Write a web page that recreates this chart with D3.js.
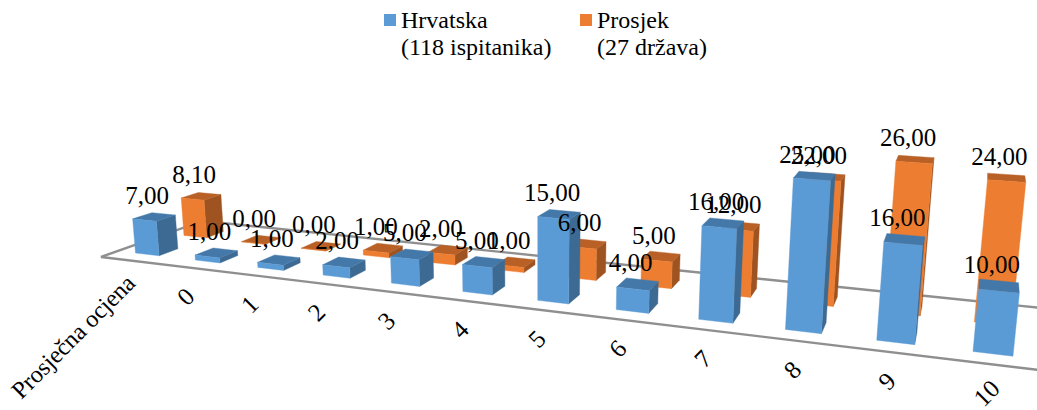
<!DOCTYPE html>
<html><head><meta charset="utf-8">
<style>html,body{margin:0;padding:0;background:#fff}svg{display:block}text{font-family:"Liberation Serif",serif;fill:#000}</style>
<script src="https://cdn.jsdelivr.net/npm/d3@7"></script></head><body>
<script>
const categories = ["Prosječna ocjena","0","1","2","3","4","5","6","7","8","9","10"];
const hrvatska = [7,1,1,2,5,5,15,4,16,25,16,10];
const prosjek = [8.1,0,0,1,2,1,6,5,12,22,26,24];
const seriesNames = ["Hrvatska","Prosjek"];
const seriesValues = [hrvatska,prosjek];
const legendLines = [["Hrvatska","(118 ispitanika)"],["Prosjek","(27 država)"]];
const frontColors = ["#5B9BD5","#ED7D31"], topColors=["#4478A8","#B96026"], sideColors=["#3D6A93","#9E5320"];

const W=1037,H=410;
const svg=d3.select("body").append("svg").attr("width",W).attr("height",H);
svg.append("rect").attr("width",W).attr("height",H).attr("fill","#fff");

// scales into floor-plane units (along the categories, into the depth, up the height)
const uScale=d3.scaleBand().domain(categories).range([-.3,11.7]).paddingInner(.6).paddingOuter(.3);
const vScale=d3.scaleBand().domain(seriesNames).range([-.31,1.69]).paddingInner(.62).paddingOuter(.31);
const hScale=d3.scaleLinear().domain([0,30]).range([0,30]);
// perspective camera
function project(u,v,h){
  const w=1-.0209*u+.06*v-.00101*h;
  return [(135.5+55.8*u+59.5*v-.543*h)/w,(253+1.61*u-3.5*v-5.1*h)/w];
}
const path=d3.line();
const floorU=[-.3,13], floorV=[-.32,1.8];
svg.append("path").attr("fill","none").attr("stroke","#8f8f8f").attr("stroke-width",2.4).attr("stroke-linejoin","miter")
  .attr("d",path([[floorU[1],floorV[1]],[floorU[0],floorV[1]],[floorU[0],floorV[0]],[floorU[1],floorV[0]]].map(p=>project(p[0],p[1],0))));

const gBars=svg.append("g"), gLabels=svg.append("g"), gTicks=svg.append("g");
const fmt=v=>d3.format(".2f")(v).replace(".",",");
[1,0].forEach(s=>{
  const vals=seriesValues[s], v0=vScale(seriesNames[s]), v1=v0+vScale.bandwidth();
  categories.forEach((c,i)=>{
    const u0=uScale(c),u1=u0+uScale.bandwidth(),h=hScale(vals[i]);
    const fb=[project(u0,v0,0),project(u1,v0,0)], ft=[project(u0,v0,h),project(u1,v0,h)],
          bb=[project(u0,v1,0),project(u1,v1,0)], bt=[project(u0,v1,h),project(u1,v1,h)];
    const g=gBars.append("g");
    const face=(pts,col)=>g.append("path").attr("d",path(pts)+"Z").attr("fill",col).attr("stroke",col).attr("stroke-width",.4);
    if(bb[0][0]<fb[0][0]) face([fb[0],ft[0],bt[0],bb[0]],sideColors[s]);
    if(bb[1][0]>fb[1][0]) face([fb[1],ft[1],bt[1],bb[1]],sideColors[s]);
    face([ft[0],ft[1],bt[1],bt[0]],topColors[s]);
    face([fb[0],fb[1],ft[1],ft[0]],frontColors[s]);
    const tc=project((u0+u1)/2,(v0+v1)/2,h);
    gLabels.append("text").attr("x",tc[0]-7).attr("y",tc[1]-13).attr("text-anchor","middle")
      .attr("font-size",25).text(fmt(vals[i]));
  });
});
categories.forEach((c,i)=>{
  const p=project(uScale(c)+uScale.bandwidth()/2,floorV[0],0);
  const first=i===0;
  const x=p[0]+(first?6:-6), y=p[1]+(first?24:29);
  gTicks.append("text").attr("transform",`translate(${x},${y}) rotate(-45)`)
    .attr("text-anchor",first?"end":"middle").attr("dy",first?"0":".32em").attr("font-size",first?24.2:25).text(c);
});
// legend
const legendX=d3.scaleOrdinal().domain(seriesNames).range([384,580]);
seriesNames.forEach((n,s)=>{
  const x=legendX(n);
  svg.append("rect").attr("x",x).attr("y",14).attr("width",12).attr("height",12).attr("fill",frontColors[s]);
  legendLines[s].forEach((t,j)=>svg.append("text").attr("x",x+17).attr("y",28+j*27).attr("font-size",24).text(t));
});
</script></body></html>
